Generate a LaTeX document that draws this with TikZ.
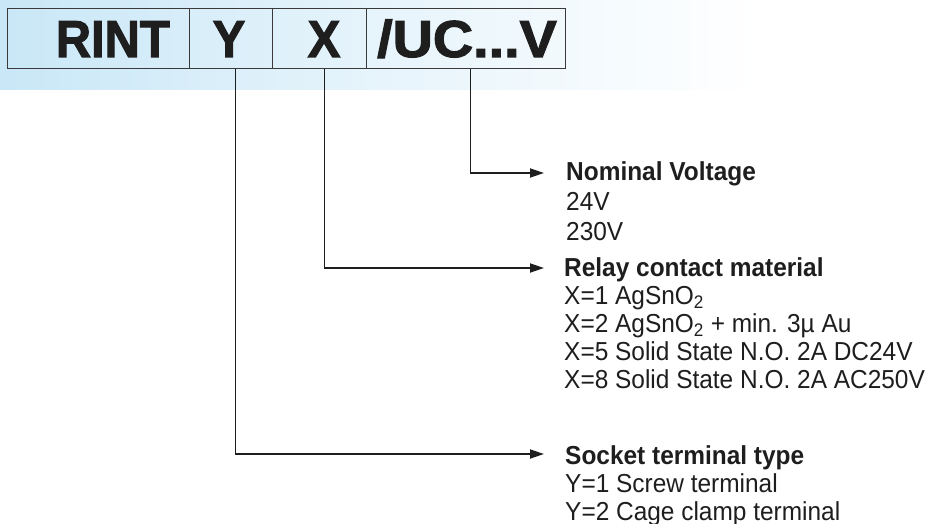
\documentclass[tikz,border=0pt]{standalone}
\usepackage{fontspec}
\setmainfont{Liberation Sans}[FakeStretch=0.94]
\newfontfamily\hdrfont{Liberation Sans}[FakeStretch=0.94,BoldFeatures={FakeBold=2}]
\usetikzlibrary{arrows.meta}
\definecolor{bandblue}{HTML}{C9E7F7}
\definecolor{ink}{HTML}{1E1E1E}
\definecolor{rule}{HTML}{3A3A3A}
\begin{document}
\begin{tikzpicture}[x=1pt,y=-1pt,
  cell/.style={draw=rule,line width=1.1pt,minimum height=60pt,inner sep=0pt,anchor=north west},
  hdr/.style={font=\hdrfont\fontsize{52}{52}\selectfont\bfseries,text=ink,inner sep=0pt},
  ttl/.style={font=\fontsize{26}{28}\selectfont\bfseries,text=ink,inner sep=0pt,anchor=base west},
  itm/.style={font=\fontsize{26}{28}\selectfont,text=ink,inner sep=0pt,anchor=base west},
  conn/.style={draw=ink,line width=1.8pt,-{Triangle[length=14pt,width=9pt]}}]
\useasboundingbox (0,0) rectangle (932,524);
\fill[white] (0,0) rectangle (932,524);
\shade[left color=bandblue,right color=white,middle color=bandblue!45] (0,0) rectangle (760,90);
% header cells
\node[cell,minimum width=182pt] (crint) at (7,8) {};
\node[cell,minimum width=83pt] (cy) at (189,8) {};
\node[cell,minimum width=94pt] (cx) at (272,8) {};
\node[cell,minimum width=199pt] (cuc) at (366,8) {};
\node[hdr,anchor=base east] (trint) at (170,57) {RINT};
\node[hdr,anchor=base] (ty) at (229,57) {Y};
\node[hdr,anchor=base] (tx) at (324,57) {X};
\node[hdr,anchor=base west] (tuc) at (377,57) {\scalebox{1.14}[1]{/UC...V}};
% Nominal voltage
\node[ttl] (nom) at (566,181) {Nominal Voltage};
\node[itm] (nom1) at (566,211) {24V};
\node[itm] (nom2) at (566,240) {230V};
% Relay contact material
\node[ttl] (rel) at (564,276) {Relay contact material};
\node[itm] (rel1) at (564,304) {X=1 AgSnO\textsubscript{2}};
\node[itm] (rel2) at (564,332) {X=2 AgSnO\textsubscript{2} + min. 3µ Au};
\node[itm] (rel3) at (564,360) {X=5 Solid State N.O. 2A DC24V};
\node[itm] (rel4) at (564,388) {X=8 Solid State N.O. 2A AC250V};
% Socket terminal type
\node[ttl] (soc) at (565,464) {Socket terminal type};
\node[itm] (soc1) at (565,492) {Y=1 Screw terminal};
\node[itm] (soc2) at (565,520) {Y=2 Cage clamp terminal};
% arrow tips
\coordinate (nomtip) at (544,173);
\coordinate (reltip) at (544,268);
\coordinate (soctip) at (544,454);
\draw[conn] ([xshift=4.5pt]cuc.south) |- (nomtip);
\draw[conn] ([xshift=5pt]cx.south) |- (reltip);
\draw[conn] ([xshift=4.5pt]cy.south) |- (soctip);
\end{tikzpicture}
\end{document}
